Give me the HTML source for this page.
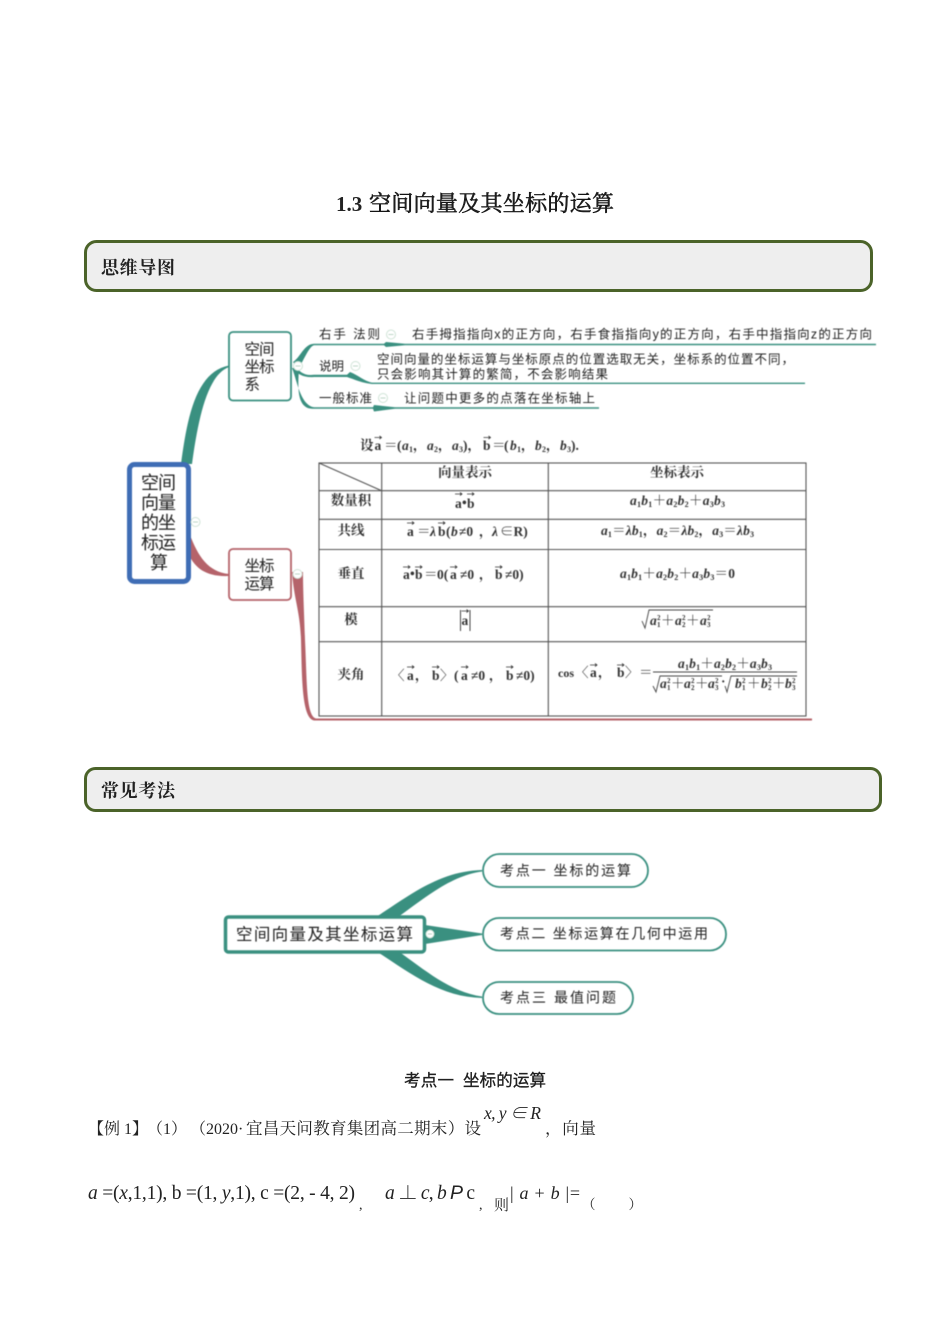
<!DOCTYPE html>
<html lang="zh">
<head>
<meta charset="utf-8">
<style>
html,body{margin:0;padding:0;background:#fff;width:950px;height:1344px;overflow:hidden}
svg{display:block}
text{fill:#222;font-family:"Liberation Serif","Noto Serif CJK SC",serif}
.s{font-family:"Liberation Sans","Noto Sans CJK SC",sans-serif}
.m{font-size:12.5px;font-family:"Liberation Sans","Noto Sans CJK SC",sans-serif;fill:#222}
.n{font-size:15.5px;font-family:"Liberation Sans","Noto Sans CJK SC",sans-serif;fill:#222}
.r{font-size:18px;font-family:"Liberation Sans","Noto Sans CJK SC",sans-serif;fill:#222}
.t{font-size:13.5px;font-weight:700;fill:#333}
.it{font-style:italic}
.ar{fill:none;stroke:#333;stroke-width:.8}
.c{fill:#fff;stroke:#cfe3d6;stroke-width:1}
.d{stroke:#bcd6c6;stroke-width:1}
.u{font-size:8px;font-weight:700;fill:#333}
.v{font-size:7px;font-weight:700;fill:#333}
</style>
</head>
<body>
<svg width="950" height="1344" viewBox="0 0 950 1344" xmlns="http://www.w3.org/2000/svg">
<rect width="950" height="1344" fill="#fff"/>

<text x="336" y="211" font-size="21" font-weight="700" fill="#111">1.3</text>
<text x="369" y="211" font-size="22" textLength="245" lengthAdjust="spacing" fill="#111" stroke="#111" stroke-width=".55">空间向量及其坐标的运算</text>

<rect x="85.5" y="241.5" width="786" height="49" rx="11" fill="#eeeeee" stroke="#4b6329" stroke-width="3"/>
<text x="101" y="274" font-size="18" font-weight="700" textLength="74" lengthAdjust="spacing">思维导图</text>

<rect x="85.5" y="768.5" width="795" height="42" rx="10" fill="#eeeeee" stroke="#4b6329" stroke-width="3"/>
<text x="101" y="797" font-size="18" font-weight="700" textLength="74" lengthAdjust="spacing">常见考法</text>

<!-- top mind map -->
<g style="filter:blur(.4px)">
<path d="M181 464C187 420 195 372 229 365.500L229 367C207 375 198 420 192 464Z" fill="#3a9080"/>
<path d="M190 535C198 556 208 572 229 574L229 576C206 577 196 568 190 557Z" fill="#b5636a"/>
<path d="M292 572C294 600 300 610 301 640C302 680 302 718 314 720.500L812 720.500L812 718.500L316 718.500C306 716 307 680 305 640C304 610 303 590 303 572Z" fill="#b5636a"/>

<g fill="#3a9080">
<path d="M293 362C300 358 304 344 314 343.800L384 343.800L386 342L405 343.800L876 343.800V345.200L405 345.200L386 347L384 345.200L314 345.200C309 346 303 362 298 369Z"/>
<path d="M295 366C300 372 304 376 314 374.800L347 374.800L350 372C358 375 364 381 372 382.600L805 382.600V384L372 384C362 383 356 380 347 377L314 377C304 378 298 374 294 370Z"/>
<path d="M292 368C297 380 300 405 314 407.300L373 407.300L374 405L395 407.300L599 407.300V408.800L395 408.800L374 411.500L373 408.800L312 408.800C296 408 298 385 299 368Z"/>
</g>
<circle cx="298" cy="366" r="4.500" class="c"/><path d="M295.500 366h5" class="d"/>

<rect x="129.500" y="464.500" width="59" height="117" rx="5" fill="#fff" stroke="#3f6db5" stroke-width="5"/>
<text class="r" x="141" y="489" textLength="35" lengthAdjust="spacing">空间</text>
<text class="r" x="141" y="509" textLength="35" lengthAdjust="spacing">向量</text>
<text class="r" x="141" y="529" textLength="35" lengthAdjust="spacing">的坐</text>
<text class="r" x="141" y="549" textLength="35" lengthAdjust="spacing">标运</text>
<text class="r" x="150" y="569">算</text>
<circle cx="195.500" cy="522" r="4.500" class="c"/><path d="M193 522h5" class="d"/>

<rect x="229" y="332" width="62" height="68.500" rx="4" fill="#fff" stroke="#3a9080" stroke-width="1.800"/>
<text class="n" x="244.500" y="354.500" textLength="30" lengthAdjust="spacing">空间</text>
<text class="n" x="244.500" y="372" textLength="30" lengthAdjust="spacing">坐标</text>
<text class="n" x="244.500" y="389.500">系</text>

<rect x="229" y="549" width="62" height="51" rx="4" fill="#fff" stroke="#b5636a" stroke-width="1.800"/>
<text class="n" x="244.500" y="571" textLength="30" lengthAdjust="spacing">坐标</text>
<text class="n" x="244.500" y="589" textLength="30" lengthAdjust="spacing">运算</text>
<circle cx="297.500" cy="574" r="4.500" class="c"/><path d="M295 574h5" class="d"/>

<text class="m" x="319" y="338.500" textLength="61" lengthAdjust="spacing">右手 法则</text>
<circle cx="391" cy="334.500" r="4.500" class="c"/><path d="M388.500 334.500h5" class="d"/>
<text class="m" x="412" y="338.500" textLength="460" lengthAdjust="spacing">右手拇指指向x的正方向，右手食指指向y的正方向，右手中指指向z的正方向</text>

<text class="m" x="319" y="370.500" textLength="25" lengthAdjust="spacing">说明</text>
<circle cx="355.500" cy="366" r="4.500" class="c"/><path d="M353 366h5" class="d"/>
<text class="m" x="377" y="363.500" textLength="417" lengthAdjust="spacing">空间向量的坐标运算与坐标原点的位置选取无关，坐标系的位置不同，</text>
<text class="m" x="377" y="378.500" textLength="231" lengthAdjust="spacing">只会影响其计算的繁简，不会影响结果</text>

<text class="m" x="319" y="402.500" textLength="53" lengthAdjust="spacing">一般标准</text>
<circle cx="383" cy="398" r="4.500" class="c"/><path d="M380.500 398h5" class="d"/>
<text class="m" x="404" y="402.500" textLength="191" lengthAdjust="spacing">让问题中更多的点落在坐标轴上</text>

<!-- formula above table -->
<text class="t" x="360" y="450">设</text>
<text class="t" x="374.500" y="450">a</text><path class="ar" d="M374.500 437.500h7m-2-1.500l2 1.500l-2 1.500"/>
<text class="t" x="384" y="450">＝</text>
<text class="t" x="397" y="450">(</text>
<text class="t it" x="402" y="450">a</text><text class="u" x="409" y="452">1</text><text class="t" x="413" y="450">，</text>
<text class="t it" x="427" y="450">a</text><text class="u" x="434" y="452">2</text><text class="t" x="438" y="450">，</text>
<text class="t it" x="452" y="450">a</text><text class="u" x="459" y="452">3</text><text class="t" x="463" y="450">)，</text>
<text class="t" x="483" y="450">b</text><path class="ar" d="M483.500 437.500h7m-2-1.500l2 1.500l-2 1.500"/>
<text class="t" x="492" y="450">＝</text>
<text class="t" x="504" y="450">(</text>
<text class="t it" x="510" y="450">b</text><text class="u" x="517" y="452">1</text><text class="t" x="521" y="450">，</text>
<text class="t it" x="535" y="450">b</text><text class="u" x="542" y="452">2</text><text class="t" x="546" y="450">，</text>
<text class="t it" x="560" y="450">b</text><text class="u" x="567" y="452">3</text><text class="t" x="571" y="450">).</text>

<!-- table -->
<g stroke="#555" stroke-width="1.100" fill="none">
<rect x="319" y="463" width="487" height="253"/>
<path d="M381.700 463V716M548.300 463V716M319 490.700H806M319 519.300H806M319 549.500H806M319 606.700H806M319 641.700H806"/>
<path d="M319 463L381.700 490.700"/>
</g>
<g text-anchor="middle">
<text class="t" x="465" y="477">向量表示</text>
<text class="t" x="677" y="477">坐标表示</text>
<text class="t" x="351" y="505">数量积</text>
<text class="t" x="351" y="535">共线</text>
<text class="t" x="351" y="578">垂直</text>
<text class="t" x="351" y="624">模</text>
<text class="t" x="351" y="679">夹角</text>
</g>

<text class="t" x="455" y="508">a</text><text class="t" x="462" y="507">•</text><text class="t" x="467" y="508">b</text>
<path class="ar" d="M455 494h7m-2-1.500l2 1.500l-2 1.500M467 494h7m-2-1.500l2 1.500l-2 1.500"/>

<text class="t" x="407" y="536">a</text>
<text class="t" x="417" y="536">＝</text>
<text class="t it" x="430" y="536">λ</text>
<text class="t" x="438" y="536">b</text>
<text class="t" x="446" y="536">(</text>
<text class="t it" x="451" y="536">b</text>
<text class="t" x="459" y="536">≠0</text>
<text class="t" x="479" y="536">，</text>
<text class="t it" x="492" y="536">λ</text>
<text class="t" x="500" y="536">∈R)</text>
<path class="ar" d="M407 523h7m-2-1.500l2 1.500l-2 1.500M438 523h7m-2-1.500l2 1.500l-2 1.500"/>

<text class="t" x="403" y="579">a</text><text class="t" x="410" y="578">•</text><text class="t" x="415" y="579">b</text>
<text class="t" x="424" y="579">＝</text><text class="t" x="437" y="579">0(</text>
<text class="t" x="450" y="579">a</text><text class="t" x="460" y="579">≠0</text><text class="t" x="479" y="579">，</text>
<text class="t" x="495" y="579">b</text><text class="t" x="505" y="579">≠0)</text>
<path class="ar" d="M403 567h7m-2-1.500l2 1.500l-2 1.500M415 567h7m-2-1.500l2 1.500l-2 1.500M450 567h7m-2-1.500l2 1.500l-2 1.500M495 567h7m-2-1.500l2 1.500l-2 1.500"/>

<text class="t" x="461.500" y="625">a</text>
<path stroke="#444" stroke-width="1" fill="none" d="M460.500 610V631M470 610V631"/>
<path class="ar" d="M461.500 611h7m-2-1.500l2 1.500l-2 1.500"/>

<text class="t" x="391" y="680">〈</text>
<text class="t" x="407" y="680">a</text><text class="t" x="415" y="680">，</text>
<text class="t" x="432" y="680">b</text><text class="t" x="440" y="680">〉</text>
<text class="t" x="454" y="680">(</text><text class="t" x="461" y="680">a</text><text class="t" x="471" y="680">≠0</text><text class="t" x="489" y="680">，</text>
<text class="t" x="506" y="680">b</text><text class="t" x="516" y="680">≠0)</text>
<path class="ar" d="M407 667h7m-2-1.500l2 1.500l-2 1.500M432 667h7m-2-1.500l2 1.500l-2 1.500M461 667h7m-2-1.500l2 1.500l-2 1.500M506 667h7m-2-1.500l2 1.500l-2 1.500"/>

<text class="t" x="630" y="505" textLength="95" lengthAdjust="spacing"><tspan class="it">a</tspan><tspan font-size="8" dy="2">1</tspan><tspan class="it" dy="-2">b</tspan><tspan font-size="8" dy="2">1</tspan><tspan dy="-2">＋</tspan><tspan class="it">a</tspan><tspan font-size="8" dy="2">2</tspan><tspan class="it" dy="-2">b</tspan><tspan font-size="8" dy="2">2</tspan><tspan dy="-2">＋</tspan><tspan class="it">a</tspan><tspan font-size="8" dy="2">3</tspan><tspan class="it" dy="-2">b</tspan><tspan font-size="8" dy="2">3</tspan></text>

<text class="t" x="601" y="535" textLength="153" lengthAdjust="spacing"><tspan class="it">a</tspan><tspan font-size="8" dy="2">1</tspan><tspan dy="-2">＝</tspan><tspan class="it">λb</tspan><tspan font-size="8" dy="2">1</tspan><tspan dy="-2">，</tspan><tspan class="it">a</tspan><tspan font-size="8" dy="2">2</tspan><tspan dy="-2">＝</tspan><tspan class="it">λb</tspan><tspan font-size="8" dy="2">2</tspan><tspan dy="-2">，</tspan><tspan class="it">a</tspan><tspan font-size="8" dy="2">3</tspan><tspan dy="-2">＝</tspan><tspan class="it">λb</tspan><tspan font-size="8" dy="2">3</tspan></text>

<text class="t" x="620" y="578" textLength="115" lengthAdjust="spacing"><tspan class="it">a</tspan><tspan font-size="8" dy="2">1</tspan><tspan class="it" dy="-2">b</tspan><tspan font-size="8" dy="2">1</tspan><tspan dy="-2">＋</tspan><tspan class="it">a</tspan><tspan font-size="8" dy="2">2</tspan><tspan class="it" dy="-2">b</tspan><tspan font-size="8" dy="2">2</tspan><tspan dy="-2">＋</tspan><tspan class="it">a</tspan><tspan font-size="8" dy="2">3</tspan><tspan class="it" dy="-2">b</tspan><tspan font-size="8" dy="2">3</tspan><tspan dy="-2">＝0</tspan></text>

<path fill="none" stroke="#444" stroke-width=".9" d="M642 621l3 7l4-18h64"/>
<text class="t it" x="650" y="625">a</text><text class="v" x="657" y="627">1</text><text class="v" x="657" y="620">2</text><text class="t" x="661" y="625">＋</text>
<text class="t it" x="675" y="625">a</text><text class="v" x="682" y="627">2</text><text class="v" x="682" y="620">2</text><text class="t" x="686" y="625">＋</text>
<text class="t it" x="700" y="625">a</text><text class="v" x="707" y="627">3</text><text class="v" x="707" y="620">2</text>

<text class="t" x="558" y="677" style="font-size:12px">cos</text>
<text class="t" x="575" y="677">〈</text><text class="t" x="590" y="677">a</text><text class="t" x="598" y="677">，</text>
<text class="t" x="617" y="677">b</text><text class="t" x="625" y="677">〉</text><text class="t" x="639" y="677">＝</text>
<path class="ar" d="M590 665h7m-2-1.500l2 1.500l-2 1.500M617 665h7m-2-1.500l2 1.500l-2 1.500"/>
<text class="t" x="678" y="668" textLength="94" lengthAdjust="spacing"><tspan class="it">a</tspan><tspan font-size="8" dy="2">1</tspan><tspan class="it" dy="-2">b</tspan><tspan font-size="8" dy="2">1</tspan><tspan dy="-2">＋</tspan><tspan class="it">a</tspan><tspan font-size="8" dy="2">2</tspan><tspan class="it" dy="-2">b</tspan><tspan font-size="8" dy="2">2</tspan><tspan dy="-2">＋</tspan><tspan class="it">a</tspan><tspan font-size="8" dy="2">3</tspan><tspan class="it" dy="-2">b</tspan><tspan font-size="8" dy="2">3</tspan></text>
<path stroke="#444" stroke-width=".9" fill="none" d="M653 672H797M653 686l3 6l4-16h62M725 686l2 6l4-16h66"/>
<text class="t it" x="660" y="688">a</text><text class="v" x="667" y="690">1</text><text class="v" x="667" y="683">2</text><text class="t" x="671" y="688">＋</text>
<text class="t it" x="684" y="688">a</text><text class="v" x="691" y="690">2</text><text class="v" x="691" y="683">2</text><text class="t" x="695" y="688">＋</text>
<text class="t it" x="708" y="688">a</text><text class="v" x="715" y="690">3</text><text class="v" x="715" y="683">2</text>
<text class="t" x="721" y="686">·</text>
<text class="t it" x="735" y="688">b</text><text class="v" x="742" y="690">1</text><text class="v" x="742" y="683">2</text><text class="t" x="747" y="688">＋</text>
<text class="t it" x="761" y="688">b</text><text class="v" x="768" y="690">2</text><text class="v" x="768" y="683">2</text><text class="t" x="772" y="688">＋</text>
<text class="t it" x="785" y="688">b</text><text class="v" x="792" y="690">3</text><text class="v" x="792" y="683">2</text>
</g>

<!-- lower mind map -->
<g style="filter:blur(.4px)">
<g fill="#3a9080">
<path d="M376 917C410 895 440 871 482 870L482 871.500C450 876 425 898 398 917Z"/>
<path d="M376 951C410 973 440 997 482 998L482 996.500C450 992 425 970 398 951Z"/>
<path d="M425 925L482 933.500L482 935L425 944Z"/>
</g>
<rect x="225.500" y="917" width="199" height="35" rx="3" fill="#fff" stroke="#3a9080" stroke-width="3.500"/>
<text class="n" style="font-size:16.5px" x="236" y="940" textLength="177" lengthAdjust="spacing">空间向量及其坐标运算</text>
<circle cx="430" cy="934" r="4" class="c"/><path d="M428 934h4" class="d"/>

<rect x="483" y="854" width="165" height="33" rx="16.500" fill="#fff" stroke="#3a9080" stroke-width="1.800"/>
<rect x="483" y="918" width="243" height="32.500" rx="16" fill="#fff" stroke="#3a9080" stroke-width="1.800"/>
<rect x="483" y="982" width="150" height="32" rx="16" fill="#fff" stroke="#3a9080" stroke-width="1.800"/>
<text class="m" style="font-size:14px" x="500" y="875.500" textLength="131" lengthAdjust="spacing">考点一 坐标的运算</text>
<text class="m" style="font-size:14px" x="500" y="938.500" textLength="208" lengthAdjust="spacing">考点二 坐标运算在几何中运用</text>
<text class="m" style="font-size:14px" x="500" y="1002.500" textLength="116" lengthAdjust="spacing">考点三 最值问题</text>
</g>

<!-- bottom text -->
<text class="s" x="404" y="1086" font-size="16.500" fill="#111" stroke="#111" stroke-width=".3" textLength="50" lengthAdjust="spacing">考点一</text>
<text class="s" x="463" y="1086" font-size="16.500" fill="#111" stroke="#111" stroke-width=".3" textLength="83" lengthAdjust="spacing">坐标的运算</text>
<text x="88" y="1134" font-size="16">【例 1】</text>
<text x="147" y="1134" font-size="16">（1）</text>
<text x="190" y="1134" font-size="16">（2020·</text>
<text x="246" y="1134" font-size="16.500" textLength="235" lengthAdjust="spacing">宜昌天问教育集团高二期末）设</text>
<text x="484" y="1119" font-size="17.500" class="it" textLength="57" lengthAdjust="spacing">x, y ∈ R</text>
<text x="545" y="1134" font-size="16.500" textLength="51" lengthAdjust="spacing">，向量</text>

<text x="88" y="1199" font-size="19.500" textLength="267" lengthAdjust="spacing"><tspan class="it">a</tspan> =(<tspan class="it">x</tspan>,1,1), b =(1, <tspan class="it">y</tspan>,1), c =(2, - 4, 2)</text>
<text x="359" y="1209" font-size="14">,</text>
<text x="385" y="1199" font-size="19.500" textLength="90" lengthAdjust="spacing"><tspan class="it">a</tspan> ⊥ <tspan class="it">c</tspan>, <tspan class="it">b</tspan> <tspan class="it s">P</tspan> c</text>
<text x="479" y="1209" font-size="14">,</text>
<text x="494" y="1210" font-size="15">则</text>
<text x="510" y="1199" font-size="18" textLength="70" lengthAdjust="spacing">| <tspan class="it">a</tspan> + <tspan class="it">b</tspan> |=</text>
<text x="582" y="1209" font-size="13.500" textLength="60" lengthAdjust="spacing">（　　）</text>
</svg>
</body>
</html>
